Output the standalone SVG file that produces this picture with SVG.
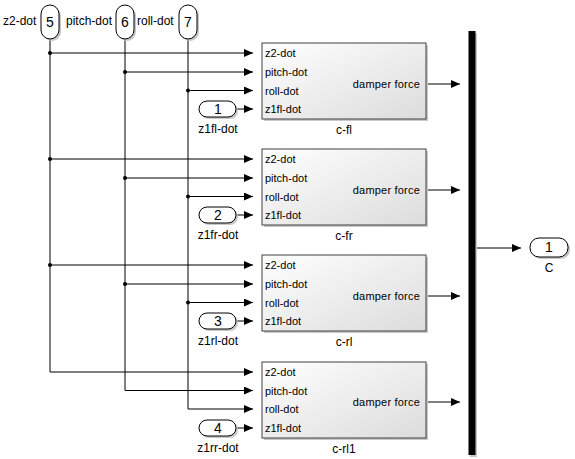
<svg xmlns="http://www.w3.org/2000/svg" width="575" height="459" viewBox="0 0 575 459">
<defs>
<linearGradient id="bg" x1="0" y1="0" x2="1" y2="1">
<stop offset="0" stop-color="#ffffff"/>
<stop offset="1" stop-color="#dcdcdc"/>
</linearGradient>
<marker id="ar" markerWidth="9" markerHeight="8" refX="9" refY="4" orient="auto" markerUnits="userSpaceOnUse">
<path d="M0,0 L9,4 L0,8 Z" fill="#000"/>
</marker>
</defs>
<style>
.ln{fill:none;stroke:#000;stroke-width:1}
.blk{fill:url(#bg);stroke:#404040;stroke-width:1}
.sh{fill:#c8c8c8}
.port{fill:#fff;stroke:#000;stroke-width:1}
.t{font-family:"Liberation Sans",Arial,sans-serif;fill:#000}
.pl{font-size:12px}
.pn{font-size:14px;text-anchor:middle}
.bi{font-size:11px}
.bo{font-size:11px;text-anchor:end;letter-spacing:0.2px}
.bl{font-size:12px;text-anchor:middle}
.dot{fill:#000}
</style>
<rect width="575" height="459" fill="#fff"/>

<g id="connectors">
<path class="ln" d="M50,39 V372 H253" marker-end="url(#ar)"/>
<path class="ln" d="M125,39 V390.5 H253" marker-end="url(#ar)"/>
<path class="ln" d="M188,39 V409 H253" marker-end="url(#ar)"/>
<path class="ln" d="M50,53 H253" marker-end="url(#ar)"/>
<path class="ln" d="M125,72 H253" marker-end="url(#ar)"/>
<path class="ln" d="M188,90.5 H253" marker-end="url(#ar)"/>
<path class="ln" d="M237,109 H253" marker-end="url(#ar)"/>
<path class="ln" d="M50,159 H253" marker-end="url(#ar)"/>
<path class="ln" d="M125,178 H253" marker-end="url(#ar)"/>
<path class="ln" d="M188,196.5 H253" marker-end="url(#ar)"/>
<path class="ln" d="M237,215 H253" marker-end="url(#ar)"/>
<path class="ln" d="M50,265 H253" marker-end="url(#ar)"/>
<path class="ln" d="M125,284 H253" marker-end="url(#ar)"/>
<path class="ln" d="M188,302.5 H253" marker-end="url(#ar)"/>
<path class="ln" d="M237,321 H253" marker-end="url(#ar)"/>
<path class="ln" d="M237,428 H253" marker-end="url(#ar)"/>
<path class="ln" d="M426,84 H460" marker-end="url(#ar)"/>
<path class="ln" d="M426,190 H460" marker-end="url(#ar)"/>
<path class="ln" d="M426,296 H460" marker-end="url(#ar)"/>
<path class="ln" d="M426,402 H460" marker-end="url(#ar)"/>
<path class="ln" d="M475,248 H521" marker-end="url(#ar)"/>
<circle class="dot" cx="50" cy="53" r="2"/>
<circle class="dot" cx="125" cy="72" r="2"/>
<circle class="dot" cx="188" cy="90.5" r="2"/>
<circle class="dot" cx="50" cy="159" r="2"/>
<circle class="dot" cx="125" cy="178" r="2"/>
<circle class="dot" cx="188" cy="196.5" r="2"/>
<circle class="dot" cx="50" cy="265" r="2"/>
<circle class="dot" cx="125" cy="284" r="2"/>
<circle class="dot" cx="188" cy="302.5" r="2"/>
</g>

<g id="in5">
<rect class="sh" x="43" y="7" width="18" height="34" rx="9"/>
<rect class="port" x="41" y="5" width="18" height="34" rx="9"/>
<text class="t pn" x="50" y="27">5</text>
<text class="t pl" x="3" y="25">z2-dot</text>
</g>
<g id="in6">
<rect class="sh" x="118" y="7" width="18" height="34" rx="9"/>
<rect class="port" x="116" y="5" width="18" height="34" rx="9"/>
<text class="t pn" x="125" y="27">6</text>
<text class="t pl" x="66" y="25">pitch-dot</text>
</g>
<g id="in7">
<rect class="sh" x="181" y="7" width="18" height="34" rx="9"/>
<rect class="port" x="179" y="5" width="18" height="34" rx="9"/>
<text class="t pn" x="188" y="27">7</text>
<text class="t pl" x="137" y="25">roll-dot</text>
</g>

<g id="in1">
<rect class="sh" x="201" y="103" width="37" height="16" rx="8"/>
<rect class="port" x="199" y="101" width="37" height="16" rx="8"/>
<text class="t pn" x="218" y="114">1</text>
<text class="t bl" x="218" y="133">z1fl-dot</text>
</g>
<g id="in2">
<rect class="sh" x="201" y="209" width="37" height="16" rx="8"/>
<rect class="port" x="199" y="207" width="37" height="16" rx="8"/>
<text class="t pn" x="218" y="220">2</text>
<text class="t bl" x="218" y="239">z1fr-dot</text>
</g>
<g id="in3">
<rect class="sh" x="201" y="315" width="37" height="16" rx="8"/>
<rect class="port" x="199" y="313" width="37" height="16" rx="8"/>
<text class="t pn" x="218" y="326">3</text>
<text class="t bl" x="218" y="345">z1rl-dot</text>
</g>
<g id="in4">
<rect class="sh" x="201" y="422" width="37" height="16" rx="8"/>
<rect class="port" x="199" y="420" width="37" height="16" rx="8"/>
<text class="t pn" x="218" y="433">4</text>
<text class="t bl" x="218" y="452">z1rr-dot</text>
</g>

<g id="c-fl">
<rect class="sh" x="264" y="45" width="164" height="76"/>
<rect class="blk" x="262" y="43" width="164" height="76"/>
<text class="t bi" x="265" y="57">z2-dot</text>
<text class="t bi" x="265" y="76">pitch-dot</text>
<text class="t bi" x="265" y="94.5">roll-dot</text>
<text class="t bi" x="265" y="113">z1fl-dot</text>
<text class="t bo" x="420" y="88">damper force</text>
<text class="t bl" x="344" y="134">c-fl</text>
</g>
<g id="c-fr">
<rect class="sh" x="264" y="151" width="164" height="76"/>
<rect class="blk" x="262" y="149" width="164" height="76"/>
<text class="t bi" x="265" y="163">z2-dot</text>
<text class="t bi" x="265" y="182">pitch-dot</text>
<text class="t bi" x="265" y="200.5">roll-dot</text>
<text class="t bi" x="265" y="219">z1fl-dot</text>
<text class="t bo" x="420" y="194">damper force</text>
<text class="t bl" x="344" y="240">c-fr</text>
</g>
<g id="c-rl">
<rect class="sh" x="264" y="257" width="164" height="76"/>
<rect class="blk" x="262" y="255" width="164" height="76"/>
<text class="t bi" x="265" y="269">z2-dot</text>
<text class="t bi" x="265" y="288">pitch-dot</text>
<text class="t bi" x="265" y="306.5">roll-dot</text>
<text class="t bi" x="265" y="325">z1fl-dot</text>
<text class="t bo" x="420" y="300">damper force</text>
<text class="t bl" x="344" y="346">c-rl</text>
</g>
<g id="c-rl1">
<rect class="sh" x="264" y="364" width="164" height="76"/>
<rect class="blk" x="262" y="362" width="164" height="76"/>
<text class="t bi" x="265" y="376">z2-dot</text>
<text class="t bi" x="265" y="394.5">pitch-dot</text>
<text class="t bi" x="265" y="413">roll-dot</text>
<text class="t bi" x="265" y="432">z1fl-dot</text>
<text class="t bo" x="420" y="406">damper force</text>
<text class="t bl" x="344" y="453">c-rl1</text>
</g>

<g id="bus">
<rect x="470" y="33" width="7" height="424" fill="#c8c8c8"/>
<rect x="468.5" y="31" width="7" height="424" fill="#000"/>
</g>

<g id="outC">
<rect class="sh" x="532" y="240" width="38" height="19" rx="9"/>
<rect class="port" x="530" y="238" width="38" height="19" rx="9"/>
<text class="t pn" x="549" y="252">1</text>
<text class="t bl" x="549" y="272">C</text>
</g>
</svg>
